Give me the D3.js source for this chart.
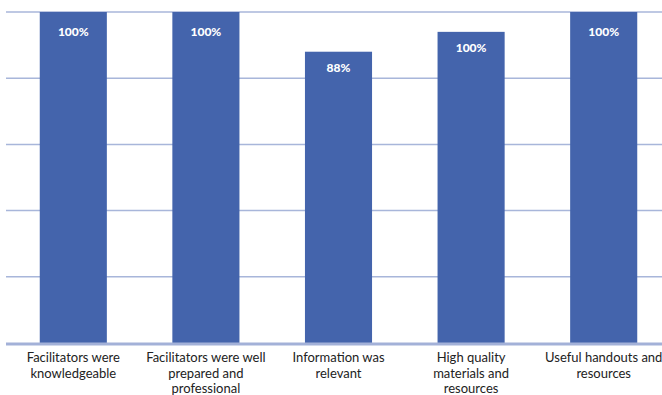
<!DOCTYPE html>
<html>
<head>
<meta charset="utf-8">
<script src="https://cdn.jsdelivr.net/npm/d3@7"></script>
<style>
  body { margin: 0; background: #fff; }
  #viz { width: 662px; height: 395px; overflow: hidden; }
</style>
</head>
<body>
<div id="viz"></div>
<script>
// chart data
var categories = [
  "Facilitators were\nknowledgeable",
  "Facilitators were well\nprepared and\nprofessional",
  "Information was\nrelevant",
  "High quality\nmaterials and\nresources",
  "Useful handouts and\nresources"
];
var values = [100, 100, 88, 94, 100];
var valueLabels = ["100%", "100%", "88%", "100%", "100%"];
var yTicks = [0, 20, 40, 60, 80, 100];

var width = 662, height = 395,
    margin = {left: 7, right: -8, top: 12, bottom: 52};

var svg = d3.select("#viz").append("svg")
  .attr("width", width)
  .attr("height", height);

var x = d3.scaleBand()
  .domain(d3.range(categories.length))
  .range([margin.left, width - margin.right])
  .paddingInner(0.494)
  .paddingOuter(0.247);

var y = d3.scaleLinear()
  .domain([0, 100])
  .range([height - margin.bottom, margin.top]);

// gridlines
svg.selectAll(".grid")
  .data(yTicks.filter(d => d > 0))
  .join("line")
  .attr("class", "grid")
  .attr("x1", 6).attr("x2", width)
  .attr("y1", d => y(d)).attr("y2", d => y(d))
  .attr("stroke", "#a8b6da")
  .attr("stroke-width", 1.5);

// bars
svg.selectAll(".bar")
  .data(values)
  .join("rect")
  .attr("class", "bar")
  .attr("x", (d, i) => x(i))
  .attr("width", x.bandwidth())
  .attr("y", d => y(d))
  .attr("height", d => y(0) - y(d))
  .attr("fill", "#4464ac");

// baseline
svg.append("line")
  .attr("x1", 6).attr("x2", width)
  .attr("y1", y(0) + 1).attr("y2", y(0) + 1)
  .attr("stroke", "#a3b1d8")
  .attr("stroke-width", 3);

// value labels
svg.selectAll(".val")
  .data(values)
  .join("text")
  .attr("class", "val")
  .attr("x", (d, i) => x(i) + x.bandwidth() / 2)
  .attr("y", (d, i) => y(d) + (d === 100 ? 24 : 20))
  .attr("text-anchor", "middle")
  .attr("fill", "#fff")
  .style("font-family", "Lato, sans-serif")
  .style("font-weight", "900")
  .style("font-size", "12px")
  .text((d, i) => valueLabels[i]);

// category labels
var cat = svg.selectAll(".cat")
  .data(categories)
  .join("text")
  .attr("class", "cat")
  .attr("text-anchor", "middle")
  .attr("fill", "#222")
  .style("font-family", "Lato, sans-serif")
  .style("font-size", "13px");

cat.each(function(d, i) {
  var t = d3.select(this);
  d.split("\n").forEach(function(line, j) {
    t.append("tspan")
      .attr("x", x(i) + x.bandwidth() / 2)
      .attr("y", 362 + j * 15.5)
      .text(line);
  });
});
</script>
</body>
</html>
